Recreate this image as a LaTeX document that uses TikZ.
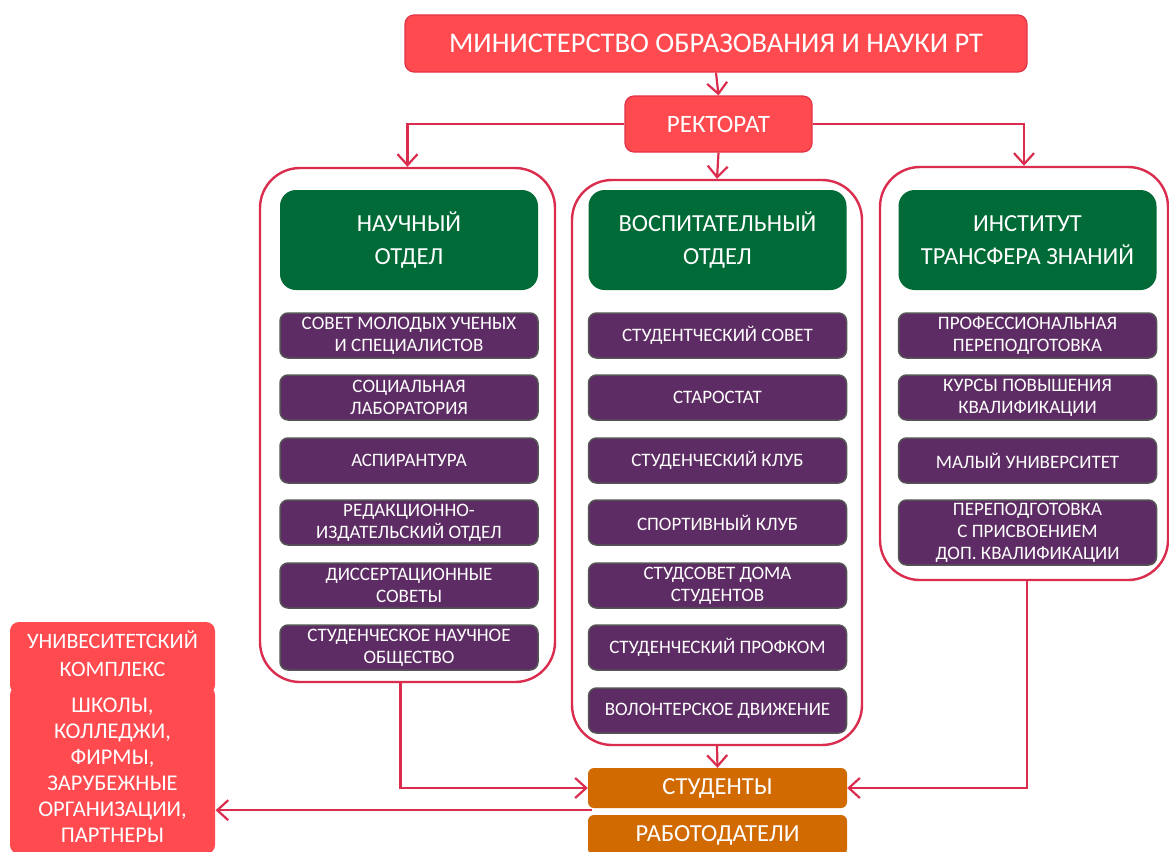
\documentclass[tikz,border=0pt]{standalone}
\usepackage{fontspec}
\setmainfont{Carlito}
\usetikzlibrary{arrows.meta,calc}
\definecolor{redf}{HTML}{FF4A50}
\definecolor{redd}{HTML}{E23445}
\definecolor{crim}{HTML}{DA2D4E}
\definecolor{grn}{HTML}{006B36}
\definecolor{purp}{HTML}{5E2C64}
\definecolor{purpb}{HTML}{555555}
\definecolor{orng}{HTML}{D16A00}
\tikzset{
  x=1pt, y=-1pt,
  box/.style={rectangle, rounded corners=9pt, text=white, align=center, inner sep=0pt},
  redbox/.style={box, fill=redf, draw=redd, line width=1.2pt},
  container/.style={rectangle, rounded corners=40pt, draw=crim, line width=2.4pt, fill=white},
  header/.style={box, fill=grn, rounded corners=16pt, minimum width=258pt, minimum height=100pt,
     font=\fontsize{24.5}{33}\selectfont},
  item/.style={box, fill=purp, draw=purpb, line width=1.5pt, rounded corners=8pt, minimum width=258pt,
     minimum height=45pt, font=\fontsize{19}{22}\selectfont},
  orbox/.style={box, fill=orng, rounded corners=6pt, minimum width=259pt, font=\fontsize{24.5}{27}\selectfont},
  conn/.style={draw=crim, line width=2.2pt, -{Straight Barb[length=11pt,width=20pt,line width=2.2pt]}},
}
\begin{document}
\begin{tikzpicture}
\useasboundingbox (0,0) rectangle (1169,851);
\fill[white] (0,0) rectangle (1169,851);

% top
\node[redbox, minimum width=622pt, minimum height=57pt, font=\fontsize{28.5}{30}\selectfont] (min) at (716,43.5) {МИНИСТЕРСТВО ОБРАЗОВАНИЯ И НАУКИ РТ};
\node[redbox, minimum width=187pt, minimum height=56pt, font=\fontsize{25}{27}\selectfont] (rect) at (718.5,124) {РЕКТОРАТ};

% containers
\node[container, minimum width=295pt, minimum height=514pt] (cL) at (407.5,425) {};
\node[container, minimum width=290pt, minimum height=565pt] (cM) at (717,462.5) {};
\node[container, minimum width=288pt, minimum height=413pt] (cR) at (1024,373.5) {};

% headers
\node[header] (hL) at (409,240) {НАУЧНЫЙ\\ОТДЕЛ};
\node[header] (hM) at (717.5,240) {ВОСПИТАТЕЛЬНЫЙ\\ОТДЕЛ};
\node[header] (hR) at (1027.5,240) {ИНСТИТУТ\\ТРАНСФЕРА ЗНАНИЙ};

% left items
\node[item] (l1) at (409,335.5) {СОВЕТ МОЛОДЫХ УЧЕНЫХ\\И СПЕЦИАЛИСТОВ};
\node[item] (l2) at (409,397.5) {СОЦИАЛЬНАЯ\\ЛАБОРАТОРИЯ};
\node[item] (l3) at (409,460.5) {АСПИРАНТУРА};
\node[item] (l4) at (409,522.5) {РЕДАКЦИОННО-\\ИЗДАТЕЛЬСКИЙ ОТДЕЛ};
\node[item] (l5) at (409,585.5) {ДИССЕРТАЦИОННЫЕ\\СОВЕТЫ};
\node[item] (l6) at (409,647.5) {СТУДЕНЧЕСКОЕ НАУЧНОЕ\\ОБЩЕСТВО};

% middle items
\node[item] (m1) at (717.5,335.5) {СТУДЕНТЧЕСКИЙ СОВЕТ};
\node[item] (m2) at (717.5,397.5) {СТАРОСТАТ};
\node[item] (m3) at (717.5,460.5) {СТУДЕНЧЕСКИЙ КЛУБ};
\node[item] (m4) at (717.5,522.5) {СПОРТИВНЫЙ КЛУБ};
\node[item] (m5) at (717.5,585.5) {СТУДСОВЕТ ДОМА\\СТУДЕНТОВ};
\node[item] (m6) at (717.5,647.5) {СТУДЕНЧЕСКИЙ ПРОФКОМ};
\node[item] (m7) at (717.5,710.5) {ВОЛОНТЕРСКОЕ ДВИЖЕНИЕ};

% right items
\node[item] (r1) at (1027.5,335.5) {ПРОФЕССИОНАЛЬНАЯ\\ПЕРЕПОДГОТОВКА};
\node[item] (r2) at (1027.5,397.5) {КУРСЫ ПОВЫШЕНИЯ\\КВАЛИФИКАЦИИ};
\node[item] (r3) at (1027.5,460.5) {МАЛЫЙ УНИВЕРСИТЕТ};
\node[item, minimum height=65pt] (r4) at (1027.5,532.5) {ПЕРЕПОДГОТОВКА\\С ПРИСВОЕНИЕМ\\ДОП. КВАЛИФИКАЦИИ};

% bottom
\node[orbox, minimum height=40pt] (stud) at (717.5,788) {СТУДЕНТЫ};
\node[orbox, minimum height=40pt] (emp) at (717.5,835) {РАБОТОДАТЕЛИ};

% left complex
\node[redbox, draw=none, minimum width=205pt, minimum height=72pt] (lt) at (112.5,658) {};
\node[redbox, draw=none, minimum width=205pt, minimum height=168pt] (lb) at (112.5,770) {};
\fill[redf] (16,680) rectangle (209,700);
\node[text=white, align=center, font=\fontsize{22}{28}\selectfont] (ltt) at (112.5,654) {УНИВЕСИТЕТСКИЙ\\КОМПЛЕКС};
\node[text=white, align=center, font=\fontsize{22.5}{26}\selectfont] (lbt) at (112.5,770) {ШКОЛЫ,\\КОЛЛЕДЖИ,\\ФИРМЫ,\\ЗАРУБЕЖНЫЕ\\ОРГАНИЗАЦИИ,\\ПАРТНЕРЫ};

% connectors
\draw[conn] (min.south) -- (rect.north);
\draw[conn] (rect.west) -| (cL.north);
\draw[conn] (rect.east) -| (cR.north);
\draw[conn] (rect.south) -- (cM.north);
\draw[conn] ([xshift=-7pt]cL.south) |- (stud.west);
\draw[conn] (cM.south) -- (stud.north);
\draw[conn] ([xshift=3pt]cR.south) |- (stud.east);
\coordinate (sw) at ([xshift=4pt,yshift=-2pt]stud.south west);
\draw[conn] (sw) -- (sw -| lb.east);
\end{tikzpicture}
\end{document}
